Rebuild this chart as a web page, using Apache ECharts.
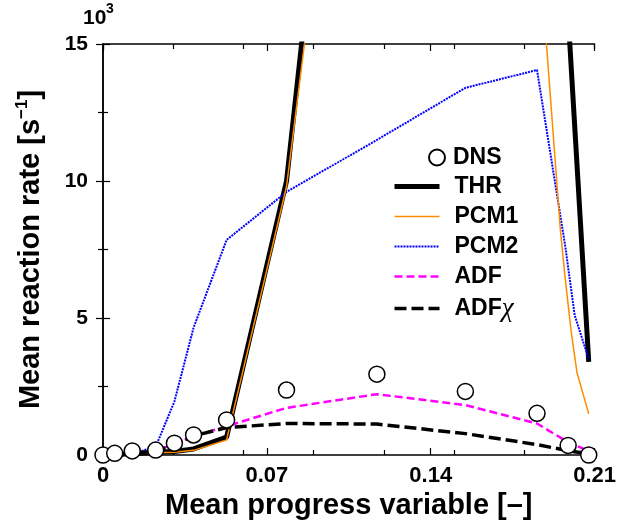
<!DOCTYPE html>
<html>
<head>
<meta charset="utf-8">
<script src="https://cdn.jsdelivr.net/npm/echarts@6/dist/echarts.min.js"></script>
<style>
  html, body { margin: 0; padding: 0; background: #fff; }
  .chart { width: 619px; height: 527px; }
</style>
</head>
<body>
<div class="chart"></div>
<script>
// data (y in units of 10^3 s^-1)
var xTicks = [0, 0.07, 0.14, 0.21];
var yTicks = [0, 5, 10, 15];

var dnsX = [0, 0.005, 0.0125, 0.0225, 0.0305, 0.0387, 0.0528, 0.0784, 0.117, 0.1548, 0.1854, 0.1987, 0.2075];
var dnsY = [0, 0.06, 0.15, 0.18, 0.43, 0.73, 1.28, 2.37, 2.95, 2.32, 1.52, 0.35, 0];

var modelX = [0, 0.005, 0.0125, 0.0225, 0.0305, 0.0387, 0.0528, 0.0784, 0.117, 0.1548, 0.1854, 0.199, 0.2075];
var thrY = [0, 0.02, 0.05, 0.1, 0.13, 0.22, 0.65, 10, 40, 40, 40, 15.6, 3.4];
var adfY = [0, 0.02, 0.05, 0.15, 0.4, 0.68, 1.05, 1.72, 2.22, 1.82, 1.15, 0.45, 0.15];
var adfChiY = [0, 0.02, 0.05, 0.15, 0.35, 0.7, 1.0, 1.15, 1.13, 0.78, 0.38, 0.15, 0.05];

var pcm1X = [0, 0.005, 0.0125, 0.0225, 0.0305, 0.0387, 0.0528, 0.0784, 0.117, 0.1548, 0.1854, 0.1954, 0.1975, 0.2, 0.2025, 0.2075];
var pcm1Y = [0, 0.02, 0.05, 0.08, 0.1, 0.17, 0.55, 9.8, 36, 36, 19.6, 8.2, 6.4, 4.5, 3.0, 1.5];

var pcm2X = [0, 0.005, 0.0125, 0.0225, 0.0305, 0.0387, 0.0528, 0.0784, 0.117, 0.1548, 0.1854, 0.1975, 0.2015, 0.2075];
var pcm2Y = [0, 0.02, 0.05, 0.3, 1.95, 4.65, 7.85, 9.6, 11.5, 13.4, 14.05, 7.6, 5.1, 3.5];

function pairs(xs, ys) {
    return xs.map(function(x, i) { return [x, ys[i]]; });
}

(function() {
    var myChart = echarts.init(document.querySelector('.chart'));
    var font = 'Liberation Sans, Arial, Helvetica, sans-serif';

    // one helper for all the x axes (major 0.07 labelled, minor 0.03 ticks only)
    function xAx(pos, interval, tickLen, showLine, showLabel) {
        return {
            type: 'value',
            position: pos,
            min: 0,
            max: 0.21,
            interval: interval,
            axisLine: { show: showLine, lineStyle: { color: '#000', width: 1.5 } },
            axisTick: { show: true, inside: true, length: tickLen, lineStyle: { color: '#000', width: 1.2 } },
            axisLabel: {
                show: showLabel,
                margin: 10,
                color: '#000',
                fontFamily: font,
                fontWeight: 'bold',
                fontSize: 22,
                formatter: function(v) {
                    for (var i = 0; i < xTicks.length; i++) {
                        if (Math.abs(v - xTicks[i]) < 1e-6) return String(xTicks[i]);
                    }
                    return '';
                }
            },
            splitLine: { show: false }
        };
    }

    function yAx(pos, showLabel) {
        return {
            type: 'value',
            position: pos,
            min: yTicks[0],
            max: yTicks[yTicks.length - 1],
            interval: 5,
            axisLine: { show: true, lineStyle: { color: '#000', width: 1.5 } },
            axisTick: { show: true, inside: true, length: 7, lineStyle: { color: '#000', width: 1.2 } },
            minorTick: { show: true, splitNumber: 2, length: 5, lineStyle: { color: '#000', width: 1.2 } },
            axisLabel: {
                show: showLabel,
                margin: 15,
                color: '#000',
                fontFamily: font,
                fontWeight: 'bold',
                fontSize: 21
            },
            splitLine: { show: false }
        };
    }

    var xMain = xAx('bottom', 0.07, 7, true, true);
    xMain.name = 'Mean progress variable [\u2013]';
    xMain.nameLocation = 'middle';
    xMain.nameGap = 28;
    xMain.nameTextStyle = { color: '#000', fontFamily: font, fontWeight: 'bold', fontSize: 29 };

    var yMain = yAx('left', true);
    yMain.name = 'Mean reaction rate [s{sup|\u22121}]';
    yMain.nameLocation = 'middle';
    yMain.nameGap = 55;
    yMain.nameTextStyle = {
        color: '#000', fontFamily: font, fontWeight: 'bold', fontSize: 29, lineHeight: 34,
        rich: {
            sup: { fontFamily: font, fontWeight: 'bold', fontSize: 17, verticalAlign: 'top', lineHeight: 17, color: '#000' }
        }
    };

    var option = {
        backgroundColor: '#fff',
        animation: false,
        grid: { left: 103, top: 44, width: 495, height: 411 },
        xAxis: [
            xMain,
            xAx('bottom', 0.03, 5, false, false),
            xAx('top', 0.07, 7, true, false),
            xAx('top', 0.03, 5, false, false)
        ],
        yAxis: [yMain, yAx('right', false)],
        graphic: [
            { type: 'text', left: 83, top: 8, style: { text: '10', font: 'bold 21px ' + font, fill: '#000' } },
            { type: 'text', left: 106, top: 2, style: { text: '3', font: 'bold 14px ' + font, fill: '#000' } }
        ],
        legend: [{
            data: ['DNS'],
            orient: 'vertical',
            left: 428,
            top: 146,
            padding: 0,
            itemWidth: 16,
            itemHeight: 16,
            textStyle: { color: '#000', fontFamily: font, fontWeight: 'bold', fontSize: 23, padding: [0, 0, 0, 3] }
        }, {
            data: ['THR', 'PCM1', 'PCM2', 'ADF', 'ADF\u03c7'],
            orient: 'vertical',
            left: 392,
            top: 175,
            padding: 0,
            itemWidth: 45,
            itemHeight: 14,
            itemGap: 7,
            // line only, no marker in the key
            itemStyle: { color: 'transparent', borderColor: 'transparent', borderWidth: 0, opacity: 0 },
            lineStyle: { width: 'inherit', type: 'inherit' },
            formatter: function(name) {
                if (name === 'ADF\u03c7') return 'ADF{chi|\u03c7}';
                return name;
            },
            textStyle: {
                color: '#000', fontFamily: font, fontWeight: 'bold', fontSize: 23, lineHeight: 23,
                padding: [0, 0, 0, 10],
                rich: {
                    chi: { fontFamily: 'Liberation Serif, serif', fontStyle: 'italic', fontWeight: 'normal', fontSize: 27, color: '#000' }
                }
            }
        }],
        series: [{
            name: 'PCM2',
            type: 'line',
            z: 3,
            symbol: 'none',
            data: pairs(pcm2X, pcm2Y),
            itemStyle: { color: '#0000ff' },
            lineStyle: { color: '#0000ff', width: 2, type: [2, 1] }
        }, {
            name: 'PCM1',
            type: 'line',
            z: 3,
            symbol: 'none',
            data: pairs(pcm1X, pcm1Y),
            itemStyle: { color: '#ff8c00' },
            lineStyle: { color: '#ff8c00', width: 1.5 }
        }, {
            name: 'THR',
            type: 'line',
            z: 2,
            symbol: 'none',
            data: pairs(modelX, thrY),
            itemStyle: { color: '#000' },
            lineStyle: { color: '#000', width: 5 }
        }, {
            name: 'ADF',
            type: 'line',
            z: 4,
            symbol: 'none',
            data: pairs(modelX, adfY),
            itemStyle: { color: '#ff00ff' },
            lineStyle: { color: '#ff00ff', width: 2.5, type: [8, 4] }
        }, {
            name: 'ADF\u03c7',
            type: 'line',
            z: 4,
            symbol: 'none',
            data: pairs(modelX, adfChiY),
            itemStyle: { color: '#000' },
            lineStyle: { color: '#000', width: 3.5, type: [12, 5] }
        }, {
            name: 'DNS',
            type: 'scatter',
            z: 6,
            symbol: 'circle',
            symbolSize: 16,
            data: pairs(dnsX, dnsY),
            itemStyle: { color: '#fff', borderColor: '#000', borderWidth: 1.5, opacity: 1 }
        }]
    };
    myChart.setOption(option);
    window.addEventListener("resize", function() {
        myChart.resize();
    });
})();
</script>
</body>
</html>
